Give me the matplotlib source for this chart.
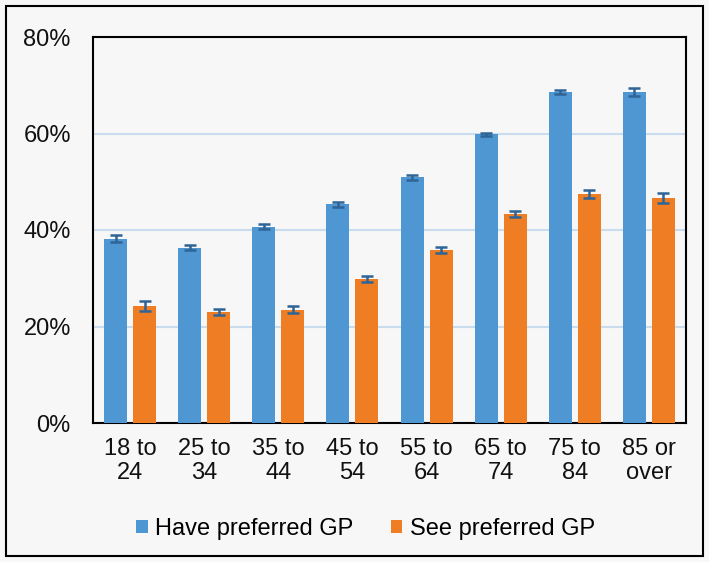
import numpy as np
import matplotlib.pyplot as plt
from matplotlib.patches import Rectangle

plt.rcParams['font.family'] = ['Liberation Sans', 'DejaVu Sans']

categories = ['18 to\n24', '25 to\n34', '35 to\n44', '45 to\n54',
              '55 to\n64', '65 to\n74', '75 to\n84', '85 or\nover']
have_gp = [38.2, 36.3, 40.7, 45.3, 50.9, 59.8, 68.6, 68.6]
have_err = [0.7, 0.5, 0.5, 0.5, 0.5, 0.4, 0.4, 0.8]
see_gp = [24.2, 23.0, 23.5, 29.9, 35.8, 43.3, 47.5, 46.6]
see_err = [1.0, 0.7, 0.7, 0.6, 0.6, 0.6, 0.8, 1.1]

bg = '#f7f7f7'
fig = plt.figure(figsize=(7.09, 5.62), dpi=100, facecolor=bg)
fig.patches.append(Rectangle((6 / 709, 6 / 562), 697 / 709, 550 / 562,
                             transform=fig.transFigure, fill=False,
                             edgecolor='black', linewidth=1.5))

ax = fig.add_axes([93 / 709, 1 - 423 / 562, 593 / 709, 386 / 562])
ax.set_facecolor(bg)

x = np.arange(len(categories))
w = 0.31
off = 0.196
ekw = dict(ecolor='#2e6496', elinewidth=1.8, capsize=4.5, capthick=1.8)
ax.bar(x - off, have_gp, w, color='#4f97d3', yerr=have_err,
       error_kw=ekw, label='Have preferred GP', zorder=3)
ax.bar(x + off, see_gp, w, color='#ee7d23', yerr=see_err,
       error_kw=ekw, label='See preferred GP', zorder=3)

ax.set_xlim(-0.5, len(categories) - 0.5)
ax.set_ylim(0, 80)
ax.set_yticks([0, 20, 40, 60, 80])
ax.set_yticklabels(['0%', '20%', '40%', '60%', '80%'])
ax.set_xticks(x)
ax.set_xticklabels(categories, linespacing=1.1)
ax.tick_params(length=0, labelsize=17, colors='#111111', pad=11)
ax.tick_params(axis='y', pad=16)
ax.yaxis.grid(True, color='#c8dcee', linewidth=1.5, zorder=0)
for s in ax.spines.values():
    s.set_linewidth(1.5)
    s.set_color('black')

ax.legend(loc='center', bbox_to_anchor=(0.459, -0.275), ncol=2, frameon=False,
          fontsize=17, handlelength=0.5, handleheight=0.5, handletextpad=0.3,
          columnspacing=1.6)

fig.savefig('out.png', dpi=100, facecolor=bg)
